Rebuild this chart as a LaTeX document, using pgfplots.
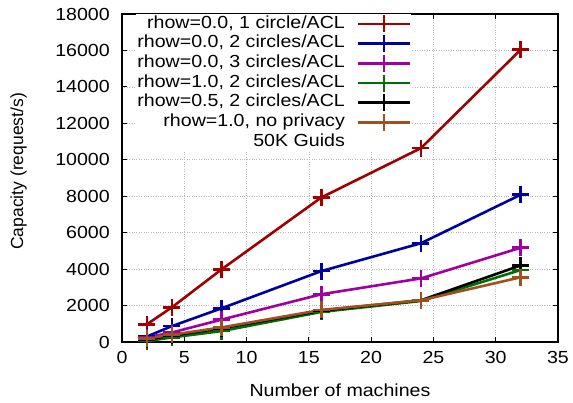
\documentclass[border=0pt]{standalone}
\usepackage{fontspec}
\setmainfont[FakeStretch=1.12]{Liberation Sans}
\newfontfamily\plainsans{Liberation Sans}
\usepackage{pgfplots}
\pgfplotsset{compat=1.18}
\definecolor{cred}{RGB}{160,0,0}
\definecolor{cblue}{RGB}{0,0,160}
\definecolor{cpurp}{RGB}{160,0,160}
\definecolor{cgreen}{RGB}{0,110,0}
\definecolor{cbrown}{RGB}{160,80,30}
\begin{document}
\begin{tikzpicture}[font=\fontsize{17.5}{20}\selectfont]
\begin{axis}[
  at={(0pt,0pt)}, anchor=south west,
  scale only axis, width=436pt, height=328pt,
  xmin=0, xmax=35, ymin=0, ymax=18000,
  xtick={0,5,...,35}, ytick={0,2000,...,18000},
  scaled y ticks=false,
  /pgf/number format/fixed, /pgf/number format/set thousands separator={},
  /pgf/number format/assume math mode=true,
  xticklabel style={inner sep=0pt, anchor=north, yshift=-9pt},
  yticklabel style={inner sep=0pt, anchor=east, xshift=-12pt},
  tick align=inside, major tick length=5pt,
  tick style={line width=1pt, black},
  axis line style={line width=1.3pt},
  grid=major, grid style={dotted, gray!55, line width=0.7pt},
  xlabel={Number of machines},
  xlabel style={at={(axis description cs:0.5,-0.1463)}, anchor=center},
  ylabel={\plainsans Capacity (request/s)},
  ylabel style={at={(axis description cs:-0.2374,0.52)}, anchor=center, rotate=0},
  legend style={at={(0.663,1)}, anchor=north east, draw=none, fill=white,
    inner sep=1pt, row sep=2.2pt, column sep=13pt,
    nodes={inner sep=0pt, text height=13pt, text depth=4.5pt},
    font=\fontsize{17.5}{20}\selectfont},
  legend cell align=right, legend plot pos=right,
  legend image code/.code={\draw[mark repeat=2,mark phase=2,overlay] plot coordinates {(0pt,0pt)(26pt,0pt)(52pt,0pt)};\path[draw=none,fill=none] (0pt,-5pt) rectangle (52pt,5pt);},
  every axis plot/.append style={line width=2.6pt, mark=+, mark size=8.5pt, mark options={line width=2.6pt}}
]
\addplot[cred] coordinates {(2,970)(4,1900)(8,3990)(16,7930)(24,10640)(32,16040)};
\addlegendentry{rhow=0.0, 1 circle/ACL}
\addplot[cblue] coordinates {(2,300)(4,870)(8,1850)(16,3890)(24,5420)(32,8080)};
\addlegendentry{rhow=0.0, 2 circles/ACL}
\addplot[cpurp] coordinates {(2,250)(4,520)(8,1230)(16,2620)(24,3490)(32,5170)};
\addlegendentry{rhow=0.0, 3 circles/ACL}
\addplot[cgreen] coordinates {(2,50)(4,250)(8,600)(16,1650)(24,2250)(32,3950)};
\addlegendentry{rhow=1.0, 2 circles/ACL}
\addplot[black] coordinates {(2,150)(4,350)(8,750)(16,1720)(24,2290)(32,4200)};
\addlegendentry{rhow=0.5, 2 circles/ACL}
\addplot[cbrown] coordinates {(2,200)(4,400)(8,800)(16,1760)(24,2290)(32,3550)};
\addlegendentry{rhow=1.0, no privacy}
\addlegendimage{empty legend}
\addlegendentry{50K Guids}
\end{axis}
\pgfresetboundingbox
\path (-122pt,-61pt) rectangle (451pt,342pt);
\end{tikzpicture}
\end{document}
